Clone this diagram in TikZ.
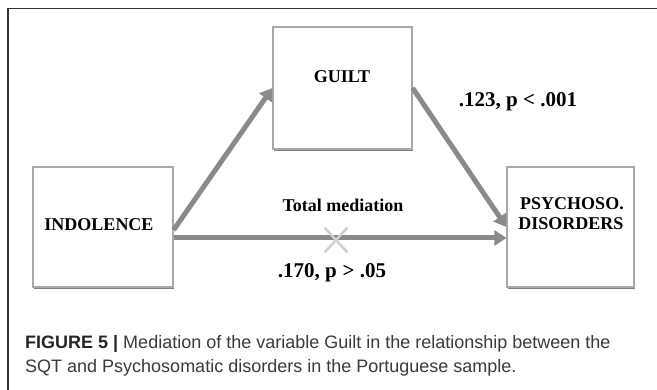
\documentclass[tikz,border=0pt]{standalone}
\usepackage{fontspec}
\setmainfont{Liberation Serif}
\newfontfamily\capfont{Liberation Sans}
\usetikzlibrary{arrows.meta,calc,shadows,shapes.misc}
\definecolor{arrowgray}{HTML}{8A8A8A}
\definecolor{boxgray}{HTML}{A8A8A8}
\definecolor{shadowgray}{HTML}{808080}
\definecolor{crossgray}{HTML}{D0D0D0}
\definecolor{framegray}{HTML}{333333}
\definecolor{captext}{HTML}{3A3A3A}
\begin{document}
\begin{tikzpicture}[x=1pt,y=-1pt,
  varbox/.style={draw=boxgray, line width=1.2pt, fill=white, inner sep=0pt,
    drop shadow={shadow xshift=1pt, shadow yshift=-2.5pt, fill=shadowgray, opacity=1}},
  boxtext/.style={font=\bfseries\fontsize{18}{20}\selectfont, anchor=base, inner sep=0pt, align=center},
  lab/.style={font=\bfseries\fontsize{21}{23}\selectfont, inner sep=0pt},
  conn/.style={draw=arrowgray, line width=5pt, -{Triangle[length=12pt,width=15pt]}, shorten >=0pt},
  capstyle/.style={font=\capfont\fontsize{18}{24}\selectfont, text=captext, anchor=base west, inner sep=0pt}
]
\useasboundingbox (0,0) rectangle (657,390);
\fill[white] (0,0) rectangle (657,390);
\draw[framegray, line width=1.3pt] (8,8.5) rectangle (680,420);

% boxes
\node[varbox, minimum width=140pt, minimum height=120pt] (ind) at (103,227) {};
\node[varbox, minimum width=139pt, minimum height=122pt] (guilt) at (342.5,88) {};
\node[varbox, minimum width=127pt, minimum height=120pt] (psy) at (570.5,227) {};

% box texts
\node[boxtext] (tind) at (99,231) {INDOLENCE};
\node[boxtext] (tguilt) at (342,83) {GUILT};
\node[boxtext] (tpsy1) at (572,210) {PSYCHOSO.};
\node[boxtext] (tpsy2) at (571,230) {DISORDERS};

% connectors
\draw[conn] ([yshift=-3pt]ind.east) -- (guilt.west);
\draw[conn] (guilt.east) -- (psy.west);
\draw[conn] ([yshift=-11pt]ind.east) -- ([yshift=-11pt]psy.west);

% cross
\node[cross out, draw=crossgray, line width=2.5pt, minimum width=20pt, minimum height=22pt, inner sep=0pt] (xm) at (336,240) {};

% labels
\node[lab] (l1) at (518,102) {.123, p < .001};
\node[lab, font=\bfseries\fontsize{18}{20}\selectfont] (l2) at (343,205) {Total mediation};
\node[lab] (l3) at (332,273) {.170, p\hspace{6pt}> .05};

% caption
\node[capstyle] (cap1) at (25,349) {{\color{black!85}\bfseries FIGURE 5 |} Mediation of the variable Guilt in the relationship between the};
\node[capstyle] (cap2) at (25,373) {SQT and Psychosomatic disorders in the Portuguese sample.};
\end{tikzpicture}
\end{document}
